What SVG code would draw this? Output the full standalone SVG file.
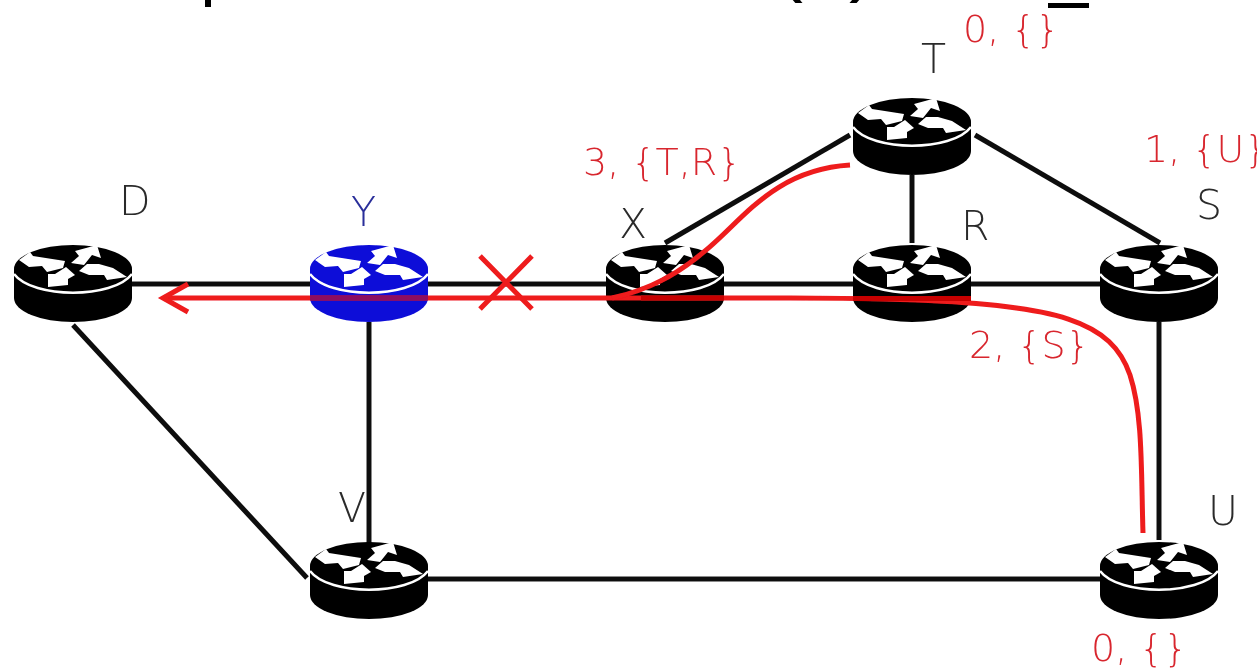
<svg xmlns="http://www.w3.org/2000/svg" width="1257" height="669" viewBox="0 0 1257 669">
<style>
.bg{fill:#fff}
.link{stroke:#111;stroke-width:5;fill:none}
.red{stroke:#ee1a1e;stroke-width:5;fill:none}
.lab{font-family:"DejaVu Sans",sans-serif;font-weight:200;font-size:41px;fill:#2a2a2a}
.val{font-family:"DejaVu Sans",sans-serif;font-weight:200;font-size:38px;fill:#d8262e}
.frag{font-family:"Liberation Sans",sans-serif;font-size:84px;fill:#000}
.arrow{fill:#fff}
.rim{stroke:#fff;stroke-width:2.5;fill:none}
</style>
<defs>
<filter id="soft" x="0" y="0" width="100%" height="100%"><feGaussianBlur stdDeviation="0.6"/></filter>
<g id="router">
<path fill="currentColor" d="M-59,0 A59,24 0 0 1 59,0 V29 A59,24 0 0 1 -59,29 Z"/>
<path class="rim" d="M-59,5 C-40,30 40,30 59,5"/>
<path class="arrow" d="M-54,-9 L-43,-17 L-40,-13 L-8,-8 L-10,-1 L-26,3 L-31,-3 L-44,-2 Z"/>
<path class="arrow" d="M-2,-6 L6,-13 L2,-18 L24,-24 L28,-11 L19,-14 L11,-4 Z"/>
<path class="arrow" d="M6,2 L14,-5 L26,-5 L40,-1 L54,8 L34,11 L31,6 L16,6 Z"/>
<path class="arrow" d="M-25,18 L-25,5 L-18,5 L-7,-2 L2,6 L-5,10 L-5,16 Z"/>
</g>
</defs>
<rect class="bg" width="1257" height="669"/>
<g filter="url(#soft)">
<g id="title-fragments">
<rect x="205" y="0" width="6" height="7"/>
<rect x="1048" y="3" width="41" height="5"/>
<text class="frag" x="775" y="-14">(</text>
<text class="frag" x="849" y="-14">)</text>
</g>
<g id="connectors">
<path class="link" d="M132,284H310M428,284H606M724,284H853M971,284H1100"/>
<path class="link" d="M369,322V545M73,325L307,578M428,579H1100M1159,322V540"/>
<path class="link" d="M850,135L665,243M912,175V243M975,135L1160,243"/>
</g>
<g id="node-D" color="#000"><use href="#router" x="73" y="269"/><text class="lab" x="119" y="215">D</text></g>
<g id="node-Y" color="#0a0ad8"><use href="#router" x="369" y="269"/><text class="lab" x="351" y="226" style="fill:#2a2f9a">Y</text></g>
<g id="node-X" color="#000"><use href="#router" x="665" y="269"/><text class="lab" x="619" y="238">X</text></g>
<g id="node-R" color="#000"><use href="#router" x="912" y="269"/><text class="lab" x="961" y="240">R</text></g>
<g id="node-S" color="#000"><use href="#router" x="1159" y="269"/><text class="lab" x="1196" y="219">S</text></g>
<g id="node-T" color="#000"><use href="#router" x="912" y="122"/><text class="lab" x="921" y="73">T</text></g>
<g id="node-V" color="#000"><use href="#router" x="369" y="566"/><text class="lab" x="338" y="522">V</text></g>
<g id="node-U" color="#000"><use href="#router" x="1159" y="566"/><text class="lab" x="1208" y="525">U</text></g>
<g id="paths">
<path class="red" d="M1143,533 C1141,470 1143,415 1130,375 C1112,322 1060,304 900,299.500 C860,298.500 820,298 790,298 L165,298"/>
<path class="red" d="M188,284 L163,298 L188,312"/>
<path class="red" d="M850,165 C770,170 740,225 700,255 C670,280 640,292 612,298"/>
<path class="red" d="M480,309 L532,256 M480,256 L532,309"/>
<path d="M310,298H428" stroke="#8c1060" stroke-width="5" fill="none"/>
<path d="M641,298H724M853,298.500H971" stroke="#c80404" stroke-width="5" fill="none"/>
</g>
<g id="labels">
<text class="val" x="963" y="42">0, {}</text>
<text class="val" x="583" y="175">3, {T,R}</text>
<text class="val" x="1144" y="162">1, {U}</text>
<text class="val" x="969" y="358">2, {S}</text>
<text class="val" x="1091" y="661">0, {}</text>
</g>
</g>
</svg>
